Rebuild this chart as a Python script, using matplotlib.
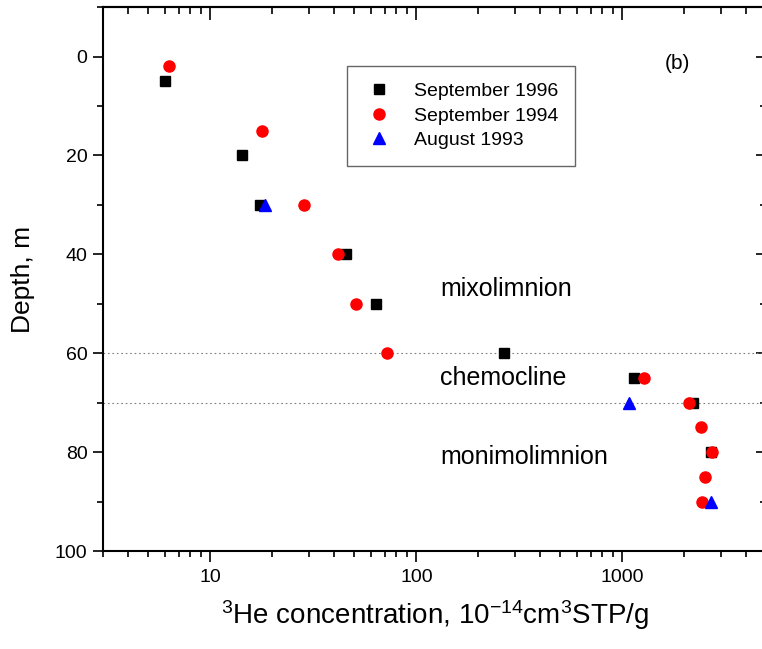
import matplotlib
matplotlib.use('Agg')
import matplotlib.pyplot as plt
from matplotlib.ticker import LogLocator, MultipleLocator, NullFormatter, FixedLocator, FixedFormatter

plt.rcParams['font.family'] = ['Liberation Sans', 'DejaVu Sans']
plt.rcParams['mathtext.fontset'] = 'custom'
plt.rcParams['mathtext.rm'] = 'Liberation Sans'
plt.rcParams['mathtext.it'] = 'Liberation Sans:italic'

# September 1996 (squares)
depth_1996 = [5, 20, 30, 40, 50, 60, 65, 70, 80]
he_1996 = [6.0, 14.2, 17.4, 45.5, 63.6, 267, 1143, 2206, 2700]

# September 1994 (circles)
depth_1994 = [2, 15, 30, 40, 50, 60, 65, 70, 75, 80, 85, 90]
he_1994 = [6.3, 17.7, 28.4, 41.6, 50.9, 71.9, 1270, 2100, 2415, 2720, 2513, 2437]

# August 1993 (triangles)
depth_1993 = [30, 70, 90]
he_1993 = [18.4, 1081, 2700]

boundaries = [60, 70]
zone_names = ['mixolimnion', 'chemocline', 'monimolimnion']
zone_depths = [47, 65, 81]

fig = plt.figure(figsize=(7.62, 6.49), dpi=100)
ax = fig.add_axes([0.1348, 0.151, 0.871, 0.838])

for d in boundaries:
    ax.axhline(d, color='#808080', lw=0.8, ls=(0, (1.5, 2.5)), zorder=1)

ax.plot(he_1996, depth_1996, 's', color='black', ms=7, ls='none', label='September 1996', zorder=3)
ax.plot(he_1994, depth_1994, 'o', color='red', ms=8, ls='none', label='September 1994', zorder=4)
ax.plot(he_1993, depth_1993, '^', color='blue', ms=8.6, ls='none', label='August 1993', zorder=5)

ax.set_xscale('log')
ax.set_xlim(3, 5000)
ax.set_ylim(100, -10)

ax.xaxis.set_major_locator(FixedLocator([10, 100, 1000]))
ax.xaxis.set_major_formatter(FixedFormatter(['10', '100', '1000']))
ax.xaxis.set_minor_locator(LogLocator(base=10, subs=range(2, 10), numticks=20))
ax.xaxis.set_minor_formatter(NullFormatter())
ax.yaxis.set_major_locator(MultipleLocator(20))
ax.yaxis.set_minor_locator(MultipleLocator(10))

for s in ax.spines.values():
    s.set_linewidth(1.5)

ax.tick_params(axis='x', which='major', direction='out', length=8, width=1.2, labelsize=14, pad=5,
               top=False)
ax.tick_params(axis='x', which='minor', direction='out', length=4.5, width=1.2, top=False)
ax.tick_params(axis='y', which='major', direction='out', length=7, width=1.2, labelsize=14, pad=4,
               right=False)
ax.tick_params(axis='y', which='minor', direction='out', length=4, width=1.2, right=False)

# inward ticks on top and right, like the original plot
sec_x = ax.secondary_xaxis('top')
sec_x.set_xscale('log')
sec_x.xaxis.set_major_locator(FixedLocator([10, 100, 1000]))
sec_x.xaxis.set_minor_locator(LogLocator(base=10, subs=range(2, 10), numticks=20))
sec_x.xaxis.set_major_formatter(NullFormatter())
sec_x.xaxis.set_minor_formatter(NullFormatter())
sec_x.tick_params(which='major', direction='in', length=9, width=1.2)
sec_x.tick_params(which='minor', direction='in', length=5, width=1.2)
sec_x.spines['top'].set_linewidth(1.5)

sec_y = ax.secondary_yaxis('right')
sec_y.yaxis.set_major_locator(MultipleLocator(20))
sec_y.yaxis.set_minor_locator(MultipleLocator(10))
sec_y.yaxis.set_major_formatter(NullFormatter())
sec_y.tick_params(which='major', direction='in', length=7, width=1.2)
sec_y.tick_params(which='minor', direction='in', length=4, width=1.2)

ax.set_xlabel(r'$^{3}$He concentration, 10$^{-14}$cm$^{3}$STP/g', fontsize=20, labelpad=9)
ax.set_ylabel('Depth, m', fontsize=19, labelpad=14)

for name, d in zip(zone_names, zone_depths):
    ax.text(130, d, name, fontsize=18, va='center', ha='left')

ax.text(1841, 1.5, '(b)', fontsize=15, va='center', ha='center')

leg = ax.legend(loc='upper left', bbox_to_anchor=(0.368, 0.8915), fontsize=14, frameon=True,
                fancybox=False, edgecolor='#404040', borderpad=0.85, labelspacing=0.35,
                handletextpad=1.0, handlelength=1.6, borderaxespad=0)
leg.get_frame().set_linewidth(1.0)

fig.savefig('out.png', dpi=100)
